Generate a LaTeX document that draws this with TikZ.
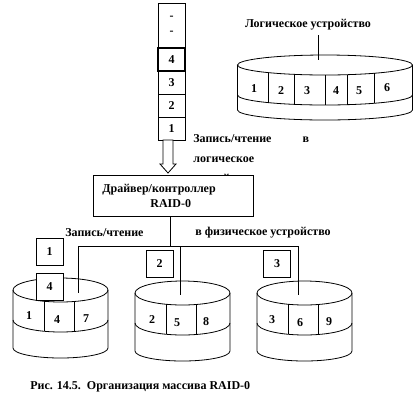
\documentclass[tikz,border=0pt]{standalone}
\usepackage{fontspec}
\setmainfont{Liberation Serif}
\usetikzlibrary{positioning, calc}

% drum: centre x, centre y of top, x radius, y radius, height
\newcommand{\drum}[5]{%
  \draw[fill=white] (#1,#2) ellipse [x radius=#3, y radius=#4];
  \draw (#1-#3,#2) -- (#1-#3,#2+#5) arc[start angle=180, end angle=0, x radius=#3, y radius=10] -- (#1+#3,#2);
  \draw (#1-#3,#2+30) arc[start angle=180, end angle=0, x radius=#3, y radius=#4];
}

\begin{document}
\begin{tikzpicture}[x=0.75pt, y=-0.75pt, line width=0.6pt, font=\fontsize{9}{11.25}\selectfont\bfseries]
    % Styles
    \tikzstyle{cell} = [rectangle, draw, fill=white, minimum width=20.25pt, minimum height=17.25pt, inner sep=0pt, outer sep=0pt]
    \tikzstyle{tag} = [rectangle, draw, fill=white, minimum size=20.25pt, inner sep=0pt]
    \tikzstyle{lbl} = [inner sep=0pt, anchor=west]
    \tikzstyle{hollow} = [draw, fill=white, line join=miter]

    \useasboundingbox (0,0) rectangle (413,412);

    % --- REQUEST QUEUE ---
    \node [cell, minimum height=33.75pt, align=center] (blk5) at (171.5,25.5) {-\\-};
    \node [cell, below=0pt of blk5, line width=0.9pt] (blk4) {4};
    \node [cell, below=0pt of blk4] (blk3) {3};
    \node [cell, below=0pt of blk3] (blk2) {2};
    \node [cell, below=0pt of blk2] (blk1) {1};

    % --- LOGICAL DEVICE ---
    \node (logname) at (308,25) {Логическое устройство};
    \drum{325}{65}{87.5}{10}{45}
    \coordinate (logtop) at (318,60);
    \draw (logtop |- logname.south) -- (logtop);
    \foreach \d in {-57,-31,0,22,49}
        \draw ({325+\d},{65+10*sqrt(1-(\d/87.5)^2)}) -- ++(0,30);
    \foreach \n/\x/\y in {1/254/89, 2/281/91, 3/307/91, 4/336/91, 5/359/91, 6/387/88}
        \node (lg\n) at (\x,\y) {\n};

    % --- CONTROLLER ---
    \node [lbl, align=left, font=\fontsize{9}{15}\selectfont\bfseries] (rwlog) at (193,160)
        {\makebox[82pt][l]{Запись/чтение}в\\логическое\\устройство};
    \node [draw, fill=white, minimum width=120pt, minimum height=30.75pt, inner sep=0pt] (ctrl) at (173,195.5) {};
    \node [lbl, align=left] (ctrltxt) at (102,195.5) {Драйвер/контроллер\\\hspace*{36pt}RAID-0};
    \draw [hollow] ($(blk1.south)+(-8.5,0)$) -- ($(blk1.south)+(1.5,0)$) -- ($(blk1.south)+(1.5,24)$)
        -- ($(blk1.south)+(4.5,24)$) -- ($(blk1.south)+(-3.5,33)$) -- ($(blk1.south)+(-11.5,24)$)
        -- ($(blk1.south)+(-8.5,24)$) -- cycle;

    % --- PHYSICAL DEVICES ---
    \node [lbl] (rwphys) at (65,233) {Запись/чтение};
    \node [lbl] (rwdev) at (195,233) {в физическое устройство};

    \drum{60.5}{290}{47.5}{12}{58}
    \drum{182.5}{293}{47.5}{12}{58}
    \drum{304.5}{293}{47.5}{12}{58}
    \foreach \c/\y in {60.5/290, 182.5/293, 304.5/293}
        \foreach \d in {-16,14}
            \draw ({\c+\d},{\y+12*sqrt(1-(\d/47.5)^2)}) -- ++(0,30);
    \foreach \n/\x/\y in {1/29/316, 4/57/320, 7/86/319, 2/152/320, 5/177/323, 8/206/322, 3/272/320, 6/300/323, 9/329/322}
        \node (ph\n) at (\x,\y) {\n};

    \node [tag] (tag1) at (49.5,251.5) {1};
    \node [tag] (tag4) at (49.5,286.5) {4};
    \node [tag] (tag2) at (159.5,263.5) {2};
    \node [tag] (tag3) at (277,263.5) {3};

    % --- CONNECTIONS ---
    \coordinate (bus) at ($(ctrl.south)+(-3,30)$);
    \coordinate (busl) at (78,246);
    \coordinate (busr) at (298,246);
    \coordinate (top1) at (78,293);
    \coordinate (top2) at (180,295);
    \coordinate (top3) at (298,295);
    \draw (bus |- ctrl.south) -- (bus);
    \draw (busl) -- (busr);
    \draw (busl) -- (top1);
    \draw (top2 |- busl) -- (top2);
    \draw (busr) -- (top3);

    % --- CAPTION ---
    \node [lbl] (caption) at (30,387) {Рис. 14.5.\ \ Организация массива RAID-0};

\end{tikzpicture}
\end{document}
